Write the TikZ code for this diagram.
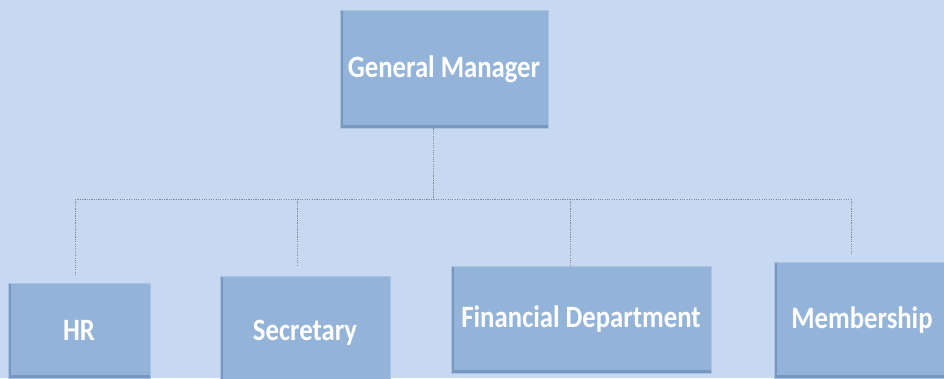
\documentclass[tikz,border=0pt]{standalone}
\usepackage{fontspec}
\setmainfont{Carlito}[FakeStretch=0.86]
\usepackage{xcolor}

\definecolor{bgblue}{HTML}{C6D9F1}
\definecolor{boxblue}{HTML}{94B3D9}
\definecolor{edgeblue}{HTML}{7897C0}
\definecolor{lightedge}{HTML}{A9C3E3}
\definecolor{linegray}{HTML}{7F8C9E}

\tikzset{
 orgbox/.style={draw=lightedge, line width=0.8pt, fill=boxblue, text=white,
  font=\fontsize{26.5}{30}\selectfont\bfseries, inner sep=0pt,
  path picture={
   \fill[edgeblue] (path picture bounding box.south west) rectangle
    ([xshift=2.5pt]path picture bounding box.north west);
   \fill[edgeblue] (path picture bounding box.south west) rectangle
    ([yshift=2.5pt]path picture bounding box.south east);
  }},
 link/.style={draw=linegray, line width=0.5pt, dash pattern=on 1pt off 1pt}
}

\begin{document}
\begin{tikzpicture}[x=0.3mm, y=-0.3mm]
 \fill[bgblue] (0,0) rectangle (944,378);
 \useasboundingbox (0,0) rectangle (944,378);
 \clip (0,0) rectangle (944,378);
 % boxes
 \node[orgbox, minimum width=62.4mm, minimum height=35.4mm] (gm) at (444,69) {General Manager};
 \node[orgbox, minimum width=42.6mm, minimum height=28.5mm] (hr) at (79,330.5) {HR};
 \node[orgbox, minimum width=51mm, minimum height=34.2mm] (sec) at (305,333) {Secretary};
 \node[orgbox, minimum width=78mm, minimum height=32.1mm] (fin) at (581,319.5) {Financial Department};
 \node[orgbox, minimum width=52.8mm, minimum height=34.8mm] (mem) at (862,320) {Membership};
 % bus and line ends
 \coordinate (bus) at (433,199);
 \coordinate (busleft) at (75,199);
 \coordinate (busright) at (851,199);
 \coordinate (hrtop) at (75,276);
 \coordinate (sectop) at (297,265);
 \coordinate (fintop) at (570,266);
 \coordinate (memtop) at (851,253);
 \draw[link] (gm.south -| bus) -- (bus);
 \draw[link] (busleft) -- (busright);
 \draw[link] (hrtop |- bus) -- (hrtop);
 \draw[link] (sectop |- bus) -- (sectop);
 \draw[link] (fintop |- bus) -- (fintop);
 \draw[link] (memtop |- bus) -- (memtop);
\end{tikzpicture}
\end{document}
